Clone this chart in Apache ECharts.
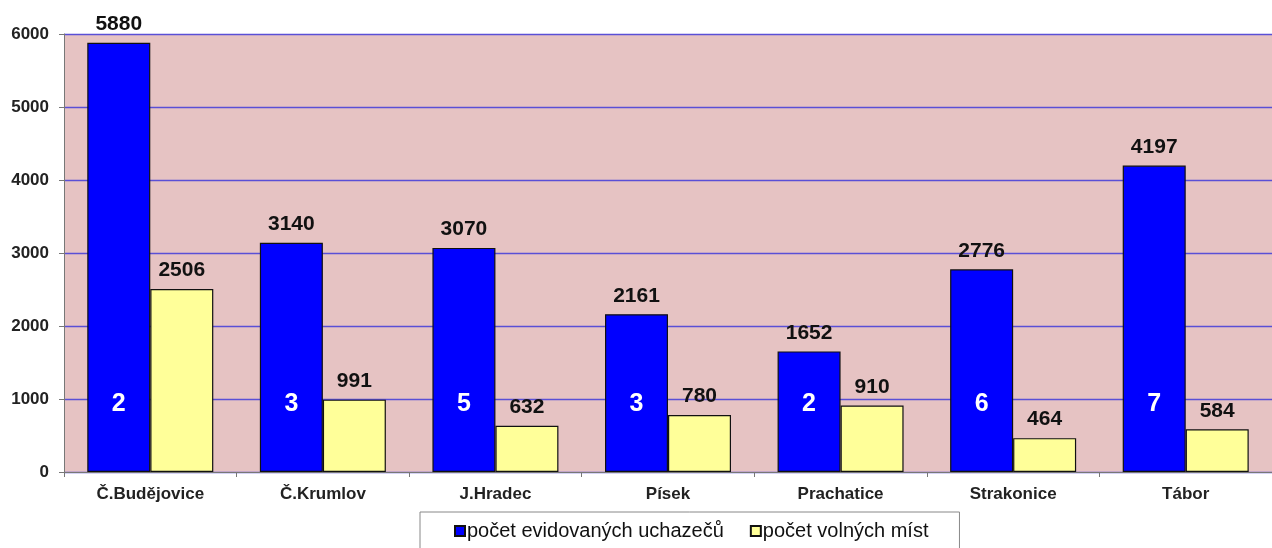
<!DOCTYPE html>
<html>
<head>
<meta charset="utf-8">
<script src="https://cdn.jsdelivr.net/npm/echarts@6/dist/echarts.min.js"></script>
<style>
  html, body { margin: 0; padding: 0; background: #ffffff; }
  #chart { width: 1272px; height: 548px; }
</style>
</head>
<body>
<div id="chart"></div>
<script>
const categories = ['Č.Budějovice', 'Č.Krumlov', 'J.Hradec', 'Písek', 'Prachatice', 'Strakonice', 'Tábor']
const uchazeci = [5880, 3140, 3070, 2161, 1652, 2776, 4197]
const volnaMista = [2506, 991, 632, 780, 910, 464, 584]
const poradi = [2, 3, 5, 3, 2, 6, 7]
const seriesNames = ['počet evidovaných uchazečů', 'počet volných míst']

const font = 'Arial, "Liberation Sans", sans-serif'
const chart = echarts.init(document.getElementById('chart'))

chart.setOption({
  animation: false,
  textStyle: { fontFamily: font },
  grid: { left: 64, right: 0, top: 34, bottom: 76, show: true, backgroundColor: '#e6c3c3', borderWidth: 0 },
  legend: {
    left: 420, top: 512,
    padding: [9, 31, 14, 34],
    itemGap: 26,
    itemWidth: 10, itemHeight: 10,
    icon: 'rect',
    borderColor: '#888', borderWidth: 1,
    backgroundColor: '#fff',
    textStyle: { fontSize: 20, color: '#111', fontFamily: font, padding: [0, 0, 0, -3] },
    data: seriesNames
  },
  xAxis: {
    type: 'category',
    data: categories,
    axisLine: { lineStyle: { color: '#777' } },
    axisTick: { show: true, length: 5, lineStyle: { color: '#777' } },
    axisLabel: { fontSize: 17, fontWeight: 'bold', color: '#222', margin: 14 }
  },
  yAxis: {
    type: 'value',
    min: 0, max: 6000, interval: 1000,
    axisLine: { show: true, lineStyle: { color: '#777' } },
    axisTick: { show: true, length: 5, lineStyle: { color: '#777' } },
    axisLabel: { fontSize: 17, fontWeight: 'bold', color: '#222', margin: 15, formatter: v => String(v) },
    splitLine: { lineStyle: { color: '#5a4fd6', width: 1.3 } }
  },
  series: [
    {
      name: seriesNames[0],
      type: 'bar',
      data: uchazeci,
      barWidth: 63,
      barGap: '0%',
      itemStyle: { color: '#0000ff', borderColor: '#111', borderWidth: 1.2 },
      label: { show: true, position: 'top', distance: 8, fontSize: 21, fontWeight: 'bold', color: '#111' },
      markPoint: {
        symbol: 'rect', symbolSize: 0,
        label: { show: true, position: 'inside', fontSize: 25, fontWeight: 'bold', color: '#fff', formatter: p => p.value },
        data: poradi.map((r, i) => ({ coord: [i, 930], value: r }))
      }
    },
    {
      name: seriesNames[1],
      type: 'bar',
      data: volnaMista,
      barWidth: 63,
      barGap: '0%',
      itemStyle: { color: '#ffff99', borderColor: '#111', borderWidth: 1.2 },
      label: { show: true, position: 'top', distance: 8, fontSize: 21, fontWeight: 'bold', color: '#111' }
    }
  ]
})
</script>
</body>
</html>
